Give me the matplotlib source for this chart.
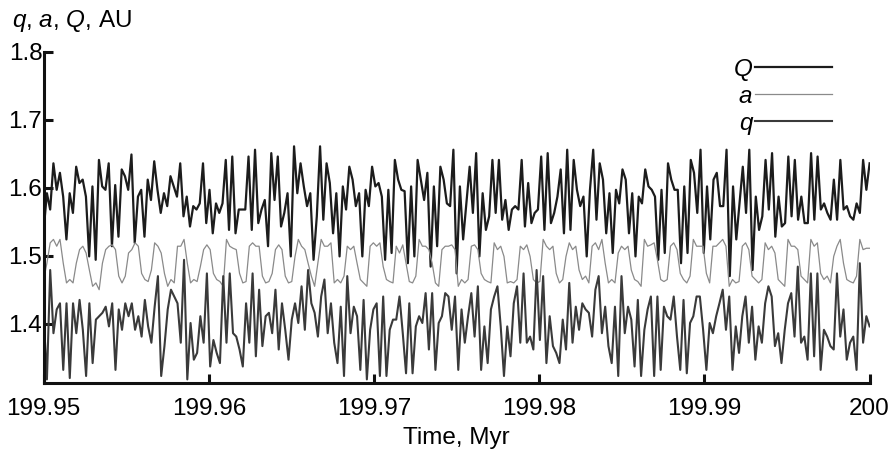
import matplotlib
matplotlib.use('Agg')
import matplotlib.pyplot as plt
import numpy as np
from matplotlib.font_manager import FontProperties

plt.rcParams['font.family'] = ['Liberation Sans', 'DejaVu Sans']
plt.rcParams['mathtext.fontset'] = 'custom'
plt.rcParams['mathtext.it'] = 'Liberation Sans:italic'
plt.rcParams['mathtext.rm'] = 'Liberation Sans'

# time window, Myr
t_start = 199.95
t_end = 200.0

# aphelion distance Q, AU
Q_vals = [
    1.538, 1.592, 1.568, 1.636, 1.597, 1.622, 1.587, 1.524, 1.592, 1.563, 1.631, 1.607, 1.612, 1.587,
    1.499, 1.602, 1.494, 1.641, 1.602, 1.597, 1.636, 1.514, 1.604, 1.528, 1.627, 1.617, 1.597, 1.649,
    1.519, 1.587, 1.597, 1.528, 1.612, 1.582, 1.639, 1.597, 1.563, 1.592, 1.573, 1.617, 1.602,
    1.587, 1.636, 1.558, 1.587, 1.543, 1.573, 1.568, 1.577, 1.636, 1.548, 1.597, 1.533, 1.577, 1.563,
    1.577, 1.641, 1.538, 1.646, 1.533, 1.568, 1.568, 1.568, 1.646, 1.538, 1.656, 1.548, 1.568, 1.582,
    1.514, 1.651, 1.582, 1.646, 1.543, 1.563, 1.592, 1.499, 1.661, 1.592, 1.636, 1.602, 1.573, 1.592,
    1.494, 1.558, 1.661, 1.553, 1.636, 1.607, 1.533, 1.592, 1.499, 1.602, 1.568, 1.631, 1.612, 1.573,
    1.592, 1.499, 1.597, 1.573, 1.631, 1.602, 1.607, 1.587, 1.494, 1.597, 1.504, 1.641, 1.612, 1.597,
    1.595, 1.489, 1.602, 1.499, 1.641, 1.612, 1.582, 1.622, 1.484, 1.602, 1.514, 1.631, 1.612, 1.577,
    1.573, 1.656, 1.474, 1.602, 1.524, 1.577, 1.631, 1.563, 1.651, 1.499, 1.592, 1.538, 1.558, 1.641,
    1.563, 1.641, 1.553, 1.582, 1.538, 1.568, 1.573, 1.568, 1.641, 1.543, 1.607, 1.548, 1.563, 1.568,
    1.646, 1.538, 1.651, 1.548, 1.563, 1.587, 1.627, 1.533, 1.656, 1.538, 1.641, 1.597, 1.573, 1.587,
    1.499, 1.597, 1.656, 1.553, 1.636, 1.612, 1.533, 1.592, 1.504, 1.597, 1.577, 1.627, 1.612, 1.533,
    1.592, 1.499, 1.587, 1.577, 1.627, 1.602, 1.597, 1.587, 1.494, 1.597, 1.504, 1.636, 1.612, 1.597,
    1.597, 1.489, 1.602, 1.504, 1.641, 1.622, 1.563, 1.656, 1.504, 1.602, 1.524, 1.612, 1.622, 1.573,
    1.573, 1.656, 1.470, 1.602, 1.524, 1.577, 1.631, 1.563, 1.656, 1.479, 1.587, 1.538, 1.558, 1.641,
    1.568, 1.651, 1.528, 1.587, 1.543, 1.548, 1.646, 1.558, 1.641, 1.553, 1.587, 1.548, 1.548, 1.651,
    1.553, 1.646, 1.568, 1.577, 1.563, 1.553, 1.612, 1.553, 1.641, 1.568, 1.573, 1.558, 1.553, 1.577,
    1.563, 1.641, 1.597, 1.636,
]

# semi-major axis a, AU
a_vals = [
    1.465, 1.489, 1.519, 1.524, 1.514, 1.524, 1.489, 1.460, 1.465, 1.460, 1.489, 1.509, 1.514, 1.504,
    1.479, 1.455, 1.460, 1.450, 1.489, 1.509, 1.514, 1.516, 1.509, 1.470, 1.460, 1.470, 1.504, 1.509,
    1.519, 1.514, 1.474, 1.465, 1.462, 1.479, 1.519, 1.514, 1.504, 1.474, 1.455, 1.465, 1.460,
    1.514, 1.514, 1.524, 1.489, 1.460, 1.465, 1.462, 1.484, 1.509, 1.516, 1.509, 1.474, 1.465, 1.462,
    1.455, 1.524, 1.514, 1.511, 1.509, 1.474, 1.460, 1.462, 1.514, 1.519, 1.514, 1.514, 1.470, 1.460,
    1.462, 1.474, 1.509, 1.516, 1.509, 1.470, 1.460, 1.462, 1.499, 1.524, 1.514, 1.509, 1.489, 1.470,
    1.455, 1.489, 1.524, 1.514, 1.514, 1.519, 1.460, 1.465, 1.460, 1.470, 1.514, 1.509, 1.514, 1.489,
    1.465, 1.460, 1.455, 1.514, 1.519, 1.514, 1.519, 1.484, 1.465, 1.462, 1.460, 1.514, 1.504, 1.516,
    1.489, 1.462, 1.460, 1.470, 1.524, 1.514, 1.514, 1.509, 1.489, 1.460, 1.455, 1.509, 1.514, 1.514,
    1.516, 1.509, 1.455, 1.465, 1.460, 1.465, 1.514, 1.516, 1.509, 1.474, 1.465, 1.462, 1.460, 1.519,
    1.509, 1.514, 1.499, 1.460, 1.462, 1.460, 1.465, 1.514, 1.509, 1.516, 1.499, 1.465, 1.460, 1.462,
    1.524, 1.514, 1.509, 1.514, 1.474, 1.460, 1.465, 1.499, 1.519, 1.509, 1.514, 1.479, 1.465, 1.470,
    1.460, 1.514, 1.519, 1.509, 1.524, 1.489, 1.460, 1.465, 1.460, 1.504, 1.514, 1.509, 1.514, 1.479,
    1.465, 1.462, 1.455, 1.524, 1.514, 1.516, 1.519, 1.494, 1.465, 1.462, 1.465, 1.514, 1.519, 1.509,
    1.474, 1.465, 1.460, 1.470, 1.524, 1.514, 1.514, 1.514, 1.474, 1.460, 1.514, 1.514, 1.519, 1.524,
    1.514, 1.455, 1.465, 1.460, 1.462, 1.514, 1.519, 1.509, 1.470, 1.465, 1.460, 1.465, 1.519, 1.509,
    1.514, 1.504, 1.465, 1.460, 1.455, 1.524, 1.514, 1.514, 1.509, 1.470, 1.465, 1.460, 1.524, 1.514,
    1.519, 1.474, 1.465, 1.470, 1.460, 1.499, 1.514, 1.524, 1.489, 1.465, 1.462, 1.460, 1.470, 1.524,
    1.509, 1.511, 1.511,
]

# perihelion distance q, AU
q_vals = [
    1.411, 1.318, 1.479, 1.386, 1.421, 1.430, 1.332, 1.430, 1.320, 1.430, 1.386, 1.435, 1.391, 1.323,
    1.430, 1.342, 1.406, 1.411, 1.416, 1.425, 1.396, 1.430, 1.332, 1.421, 1.391, 1.430, 1.411, 1.430,
    1.391, 1.411, 1.381, 1.435, 1.396, 1.372, 1.425, 1.470, 1.323, 1.367, 1.421, 1.450, 1.440,
    1.430, 1.372, 1.494, 1.318, 1.401, 1.347, 1.357, 1.411, 1.372, 1.474, 1.337, 1.376, 1.357, 1.342,
    1.470, 1.372, 1.474, 1.386, 1.381, 1.362, 1.337, 1.430, 1.372, 1.474, 1.352, 1.450, 1.367, 1.411,
    1.416, 1.386, 1.450, 1.362, 1.430, 1.391, 1.347, 1.406, 1.430, 1.401, 1.455, 1.391, 1.479, 1.430,
    1.416, 1.381, 1.440, 1.465, 1.386, 1.430, 1.372, 1.342, 1.425, 1.323, 1.470, 1.386, 1.425, 1.411,
    1.332, 1.435, 1.318, 1.391, 1.421, 1.430, 1.323, 1.440, 1.323, 1.391, 1.406, 1.406, 1.440, 1.386,
    1.327, 1.430, 1.327, 1.396, 1.411, 1.401, 1.445, 1.362, 1.445, 1.332, 1.401, 1.411, 1.445, 1.440,
    1.391, 1.440, 1.332, 1.421, 1.372, 1.411, 1.445, 1.381, 1.455, 1.332, 1.396, 1.342, 1.421, 1.440,
    1.455, 1.396, 1.323, 1.396, 1.352, 1.430, 1.455, 1.372, 1.474, 1.372, 1.381, 1.362, 1.479, 1.376,
    1.470, 1.342, 1.411, 1.367, 1.357, 1.342, 1.406, 1.362, 1.460, 1.372, 1.425, 1.391, 1.430, 1.421,
    1.416, 1.381, 1.450, 1.470, 1.386, 1.425, 1.367, 1.342, 1.425, 1.323, 1.470, 1.386, 1.425, 1.406,
    1.337, 1.435, 1.323, 1.391, 1.421, 1.440, 1.323, 1.440, 1.332, 1.425, 1.411, 1.406, 1.440, 1.381,
    1.332, 1.435, 1.327, 1.401, 1.411, 1.440, 1.440, 1.391, 1.332, 1.401, 1.386, 1.411, 1.430, 1.450,
    1.391, 1.440, 1.332, 1.396, 1.357, 1.411, 1.440, 1.372, 1.425, 1.347, 1.396, 1.372, 1.430, 1.455,
    1.440, 1.367, 1.386, 1.342, 1.391, 1.430, 1.445, 1.381, 1.484, 1.372, 1.381, 1.347, 1.474, 1.352,
    1.474, 1.332, 1.391, 1.381, 1.367, 1.362, 1.474, 1.381, 1.421, 1.347, 1.372, 1.381, 1.332, 1.489,
    1.372, 1.411, 1.396,
]

x_ticks = [199.95, 199.96, 199.97, 199.98, 199.99, 200.0]
x_tick_labels = ['199.95', '199.96', '199.97', '199.98', '199.99', '200']
y_ticks = [1.4, 1.5, 1.6, 1.7, 1.8]
y_tick_labels = ['1.4', '1.5', '1.6', '1.7', '1.8']

fig = plt.figure(figsize=(8.91, 4.59), dpi=100)
ax = fig.add_axes([0.049, 0.166, 0.927, 0.721])

ax.plot(np.linspace(t_start, t_end, len(Q_vals)), Q_vals, color='#1c1c1c', lw=1.6, label='Q')
ax.plot(np.linspace(t_start, t_end, len(a_vals)), a_vals, color='#8a8a8a', lw=0.9, label='a')
ax.plot(np.linspace(t_start, t_end, len(q_vals)), q_vals, color='#3a3a3a', lw=1.5, label='q')

ax.set_xlim(t_start, t_end)
ax.set_ylim(1.313, 1.8)
ax.set_xticks(x_ticks)
ax.set_xticklabels(x_tick_labels)
ax.set_yticks(y_ticks)
ax.set_yticklabels(y_tick_labels)

for side in ['top', 'right']:
    ax.spines[side].set_visible(False)
for side in ['left', 'bottom']:
    ax.spines[side].set_linewidth(2.2)
    ax.spines[side].set_color('#111111')

ax.tick_params(direction='in', length=6.5, width=2.2, color='#111111', labelsize=17.5)
ax.tick_params(axis='y', pad=1)
ax.tick_params(axis='x', pad=11)

ax.set_xlabel('Time, Myr', fontsize=17.5, labelpad=5)
fig.text(12 / 891, 1 - 27 / 459, '$q$, $a$, $Q$, AU', fontsize=17.5, va='baseline', ha='left')

leg_font = FontProperties(family='Liberation Sans', style='italic', size=17.5)
ax.legend(loc='upper right', bbox_to_anchor=(0.955, 0.982), frameon=False, markerfirst=False,
          prop=leg_font, handlelength=3.2, handletextpad=0.1, labelspacing=0.16,
          borderpad=0, borderaxespad=0)

fig.savefig('out.png', dpi=100)
